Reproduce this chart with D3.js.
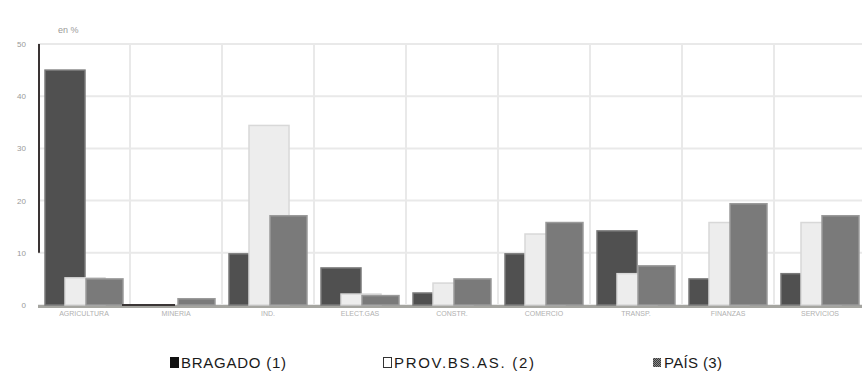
<!DOCTYPE html>
<html><head><meta charset="utf-8">
<script src="https://cdn.jsdelivr.net/npm/d3@7"></script>
<style>html,body{margin:0;padding:0;background:#fff;}svg{display:block;}</style>
</head><body>
<svg id="c" width="862" height="371"></svg>
<script>
const categories = ["AGRICULTURA","MINERIA","IND.","ELECT.GAS","CONSTR.","COMERCIO","TRANSP.","FINANZAS","SERVICIOS"];
const bragado = [45, 0, 9.8, 7.1, 2.3, 9.8, 14.2, 5.0, 6.0];
const provincia = [5.2, 0, 34.4, 2.1, 4.2, 13.6, 6.0, 15.8, 15.8];
const pais = [5.0, 1.2, 17.1, 1.8, 5.0, 15.8, 7.5, 19.4, 17.1];
const yTicks = [0, 10, 20, 30, 40, 50];
const seriesNames = ["BRAGADO (1)", "PROV.BS.AS. (2)", "PAÍS (3)"];
const unitLabel = "en %";

const svg = d3.select("#c");
const defs = svg.append("defs");
const pat = defs.append("pattern").attr("id","dots").attr("width",2).attr("height",2).attr("patternUnits","userSpaceOnUse");
pat.append("rect").attr("width",2).attr("height",2).attr("fill","#8a8a8a");
pat.append("rect").attr("width",1).attr("height",1).attr("fill","#3a3a3a");
pat.append("rect").attr("x",1).attr("y",1).attr("width",1).attr("height",1).attr("fill","#3a3a3a");

const x = d3.scaleBand().domain(categories).range([38, 866]).padding(0);
const y = d3.scaleLinear().domain([0, 50]).range([305, 44]);

// horizontal gridlines
svg.append("g").selectAll("line").data(yTicks).join("line")
  .attr("x1", 38).attr("x2", 862).attr("y1", d => y(d)).attr("y2", d => y(d))
  .attr("stroke", "#e9e9e9").attr("stroke-width", 2);
// vertical gridlines at band boundaries
svg.append("g").selectAll("line").data(categories.slice(1)).join("line")
  .attr("x1", d => x(d)).attr("x2", d => x(d)).attr("y1", 44).attr("y2", 305)
  .attr("stroke", "#e9e9e9").attr("stroke-width", 2);

// y tick labels
svg.append("g").selectAll("text").data(yTicks).join("text")
  .attr("x", 26).attr("y", d => y(d) + 3).attr("text-anchor", "end")
  .attr("font-family", "Liberation Sans, Arial, sans-serif").attr("font-size", 8)
  .attr("fill", "#999").text(d => d);
svg.append("text").attr("x", 58).attr("y", 33)
  .attr("font-family", "Liberation Sans, Arial, sans-serif").attr("font-size", 9)
  .attr("fill", "#999").text(unitLabel);

// baseline
svg.append("line").attr("x1", 38).attr("x2", 862).attr("y1", y(0) + 1.5).attr("y2", y(0) + 1.5)
  .attr("stroke", "#a5a5a0").attr("stroke-width", 3);

const specs = [
  {vals: bragado, off: 7, w: 40, fill: "#505050", stroke: "#7a7a7a"},
  {vals: provincia, off: 27, w: 40, fill: "#ededed", stroke: "#d8d8d8"},
  {vals: pais, off: 48, w: 37, fill: "#7a7a7a", stroke: "#9a9a9a"}
];
specs.forEach(s => {
  svg.append("g").selectAll("rect").data(categories).join("rect")
    .attr("x", (d) => x(d) + s.off)
    .attr("width", s.w)
    .attr("y", (d, i) => y(s.vals[i]))
    .attr("height", (d, i) => Math.max(0, y(0) - y(s.vals[i])))
    .attr("fill", s.fill).attr("stroke", s.stroke).attr("stroke-width", 1.5);
});
// zero-value bragado marker line
bragado.forEach((v, i) => {
  if (v === 0) {
    svg.append("line").attr("x1", x(categories[i]) - 8).attr("x2", x(categories[i]) + 45)
      .attr("y1", y(0)).attr("y2", y(0)).attr("stroke", "#3a3535").attr("stroke-width", 2);
  }
});

// y axis line (partial, dark)
svg.append("line").attr("x1", 39).attr("x2", 39).attr("y1", y(50)).attr("y2", y(10))
  .attr("stroke", "#3a3434").attr("stroke-width", 2);

// x labels
svg.append("g").selectAll("text").data(categories).join("text")
  .attr("x", d => x(d) + x.bandwidth() / 2).attr("y", 316).attr("text-anchor", "middle")
  .attr("font-family", "Liberation Sans, Arial, sans-serif").attr("font-size", 7)
  .attr("fill", "#b0b0b0").text(d => d);

// legend
const lg = svg.append("g").attr("font-family", "Liberation Sans, Arial, sans-serif").attr("font-size", 15).attr("fill", "#1a1a1a");
const lpos = [170, 383, 653];
const lwidth = [105, 140, 58];
lg.append("rect").attr("x", lpos[0]).attr("y", 357).attr("width", 9).attr("height", 11).attr("fill", "#111");
lg.append("rect").attr("x", lpos[1] + 0.5).attr("y", 357.5).attr("width", 8).attr("height", 10).attr("fill", "#fff").attr("stroke", "#333").attr("stroke-width", 1);
lg.append("rect").attr("x", lpos[2]).attr("y", 358).attr("width", 8).attr("height", 9).attr("fill", "url(#dots)");
lg.selectAll("text").data(seriesNames).join("text")
  .attr("x", (d, i) => lpos[i] + 11).attr("y", 368)
  .attr("textLength", (d, i) => lwidth[i]).attr("lengthAdjust", "spacing")
  .text(d => d);
</script>
</body></html>
